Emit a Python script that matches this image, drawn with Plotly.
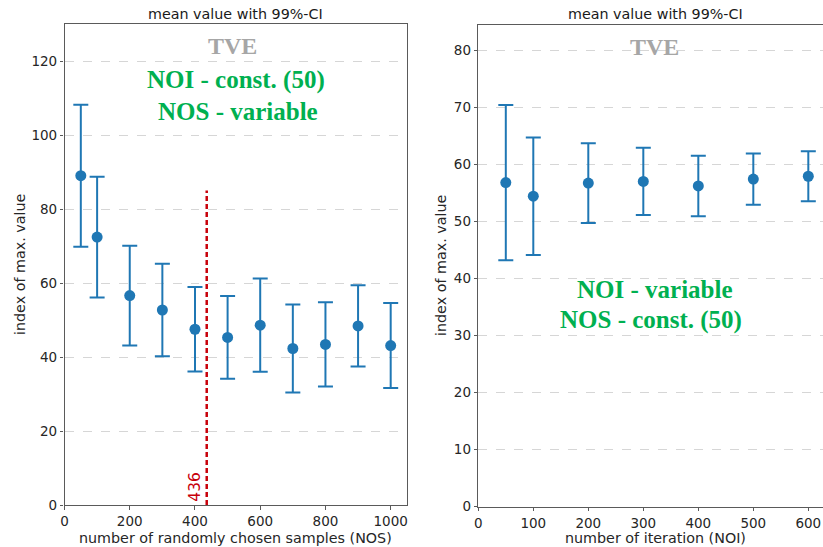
import plotly.graph_objects as go

# Left panel: number of randomly chosen samples (NOS), NOI fixed at 50
nos = [50, 100, 200, 300, 400, 500, 600, 700, 800, 900, 1000]
nos_mean = [89.0, 72.4, 56.6, 52.7, 47.5, 45.3, 48.6, 42.3, 43.4, 48.4, 43.1]
nos_ci = [19.2, 16.3, 13.5, 12.5, 11.4, 11.2, 12.6, 11.9, 11.4, 11.0, 11.5]

# Right panel: number of iterations (NOI), NOS fixed at 50
noi = [50, 100, 200, 300, 400, 500, 600]
noi_mean = [56.8, 54.4, 56.7, 57.0, 56.2, 57.4, 57.9]
noi_ci = [13.6, 10.3, 7.0, 5.9, 5.3, 4.5, 4.4]

threshold_nos = 436
threshold_top = 85

W, H = 823, 547
BLUE = "#1f77b4"
GREEN = "#00b050"
RED = "#c8000a"
AX = "#5a5a5a"
TXT = "#262626"
SANS = "DejaVu Sans"
SERIF = "Liberation Serif"


def px_x(p):
    return p / W


def px_y(p):
    return 1 - p / H


fig = go.Figure()

err_style = dict(type="data", symmetric=True, color=BLUE, thickness=2, width=7.5)
marker_style = dict(color=BLUE, size=11)

fig.add_trace(go.Scatter(
    x=nos, y=nos_mean, mode="markers", marker=marker_style,
    error_y=dict(array=nos_ci, **err_style), xaxis="x", yaxis="y",
    showlegend=False,
))
fig.add_trace(go.Scatter(
    x=noi, y=noi_mean, mode="markers", marker=marker_style,
    error_y=dict(array=noi_ci, **err_style), xaxis="x2", yaxis="y2",
    showlegend=False,
))

axis_common = dict(
    showline=True, linecolor=AX, linewidth=1.2,
    ticks="outside", ticklen=3.5, tickcolor=AX, tickwidth=1,
    tickfont=dict(family=SANS, size=13.5, color=TXT),
    zeroline=False, automargin=False,
)
grid_style = dict(showgrid=True, gridcolor="#d6d6d6", griddash="dash", gridwidth=1)

fig.update_layout(
    width=W, height=H,
    margin=dict(l=0, r=0, t=0, b=0, autoexpand=False),
    paper_bgcolor="white", plot_bgcolor="white",
    xaxis=dict(domain=[px_x(64.5), px_x(407)], range=[0, 1050],
               tickvals=[0, 200, 400, 600, 800, 1000], showgrid=False,
               mirror=True, anchor="y", **axis_common),
    yaxis=dict(domain=[px_y(505), px_y(24)], range=[0, 130],
               tickvals=[0, 20, 40, 60, 80, 100, 120],
               mirror=True, anchor="x", **grid_style, **axis_common),
    xaxis2=dict(domain=[px_x(478.3), 1.0], range=[0, 626.7],
                tickvals=[0, 100, 200, 300, 400, 500, 600], showgrid=False,
                mirror=True, anchor="y2", **axis_common),
    yaxis2=dict(domain=[px_y(506.7), px_y(25)], range=[0, 84.4],
                tickvals=[0, 10, 20, 30, 40, 50, 60, 70, 80],
                mirror=False, anchor="x2", **grid_style, **axis_common),
)

# threshold line on the NOS panel
fig.add_shape(type="line", xref="x", yref="y",
              x0=threshold_nos, x1=threshold_nos, y0=0, y1=threshold_top,
              line=dict(color=RED, width=2.5, dash="5px,3px"))

annotations = [
    # subplot titles
    dict(text="mean value with 99%-CI", x=px_x(235.5), y=px_y(14),
         font=dict(family=SANS, size=14.3, color="#1a1a1a")),
    dict(text="mean value with 99%-CI", x=px_x(655.5), y=px_y(14),
         font=dict(family=SANS, size=14.3, color="#1a1a1a")),
    # axis titles
    dict(text="number of randomly chosen samples (NOS)", x=px_x(235.5), y=px_y(537.5),
         font=dict(family=SANS, size=14.3, color=TXT)),
    dict(text="number of iteration (NOI)", x=px_x(655), y=px_y(538),
         font=dict(family=SANS, size=14.3, color=TXT)),
    dict(text="index of max. value", x=px_x(20), y=px_y(265), textangle=-90,
         font=dict(family=SANS, size=14.3, color=TXT)),
    dict(text="index of max. value", x=px_x(441), y=px_y(266), textangle=-90,
         font=dict(family=SANS, size=14.3, color=TXT)),
    # panel captions
    dict(text="<b>TVE</b>", x=px_x(232), y=px_y(46),
         font=dict(family=SERIF, size=24, color="#a6a6a6")),
    dict(text="<b>NOI - const. (50)</b>", x=px_x(236), y=px_y(80),
         font=dict(family=SERIF, size=25, color=GREEN)),
    dict(text="<b>NOS - variable</b>", x=px_x(238), y=px_y(111),
         font=dict(family=SERIF, size=25, color=GREEN)),
    dict(text="<b>TVE</b>", x=px_x(654), y=px_y(47),
         font=dict(family=SERIF, size=24, color="#a6a6a6")),
    dict(text="<b>NOI - variable</b>", x=px_x(654.5), y=px_y(289),
         font=dict(family=SERIF, size=25, color=GREEN)),
    dict(text="<b>NOS - const. (50)</b>", x=px_x(651), y=px_y(320),
         font=dict(family=SERIF, size=25, color=GREEN)),
]
for a in annotations:
    a.update(xref="paper", yref="paper", showarrow=False,
             xanchor="center", yanchor="middle")
    fig.add_annotation(**a)

# threshold value label
fig.add_annotation(text=str(threshold_nos), xref="x", yref="y",
                   x=threshold_nos, y=0, xanchor="right", yanchor="bottom",
                   xshift=-1, yshift=1, textangle=-90, showarrow=False,
                   font=dict(family=SANS, size=15.5, color=RED))

fig.write_html("out.html")
